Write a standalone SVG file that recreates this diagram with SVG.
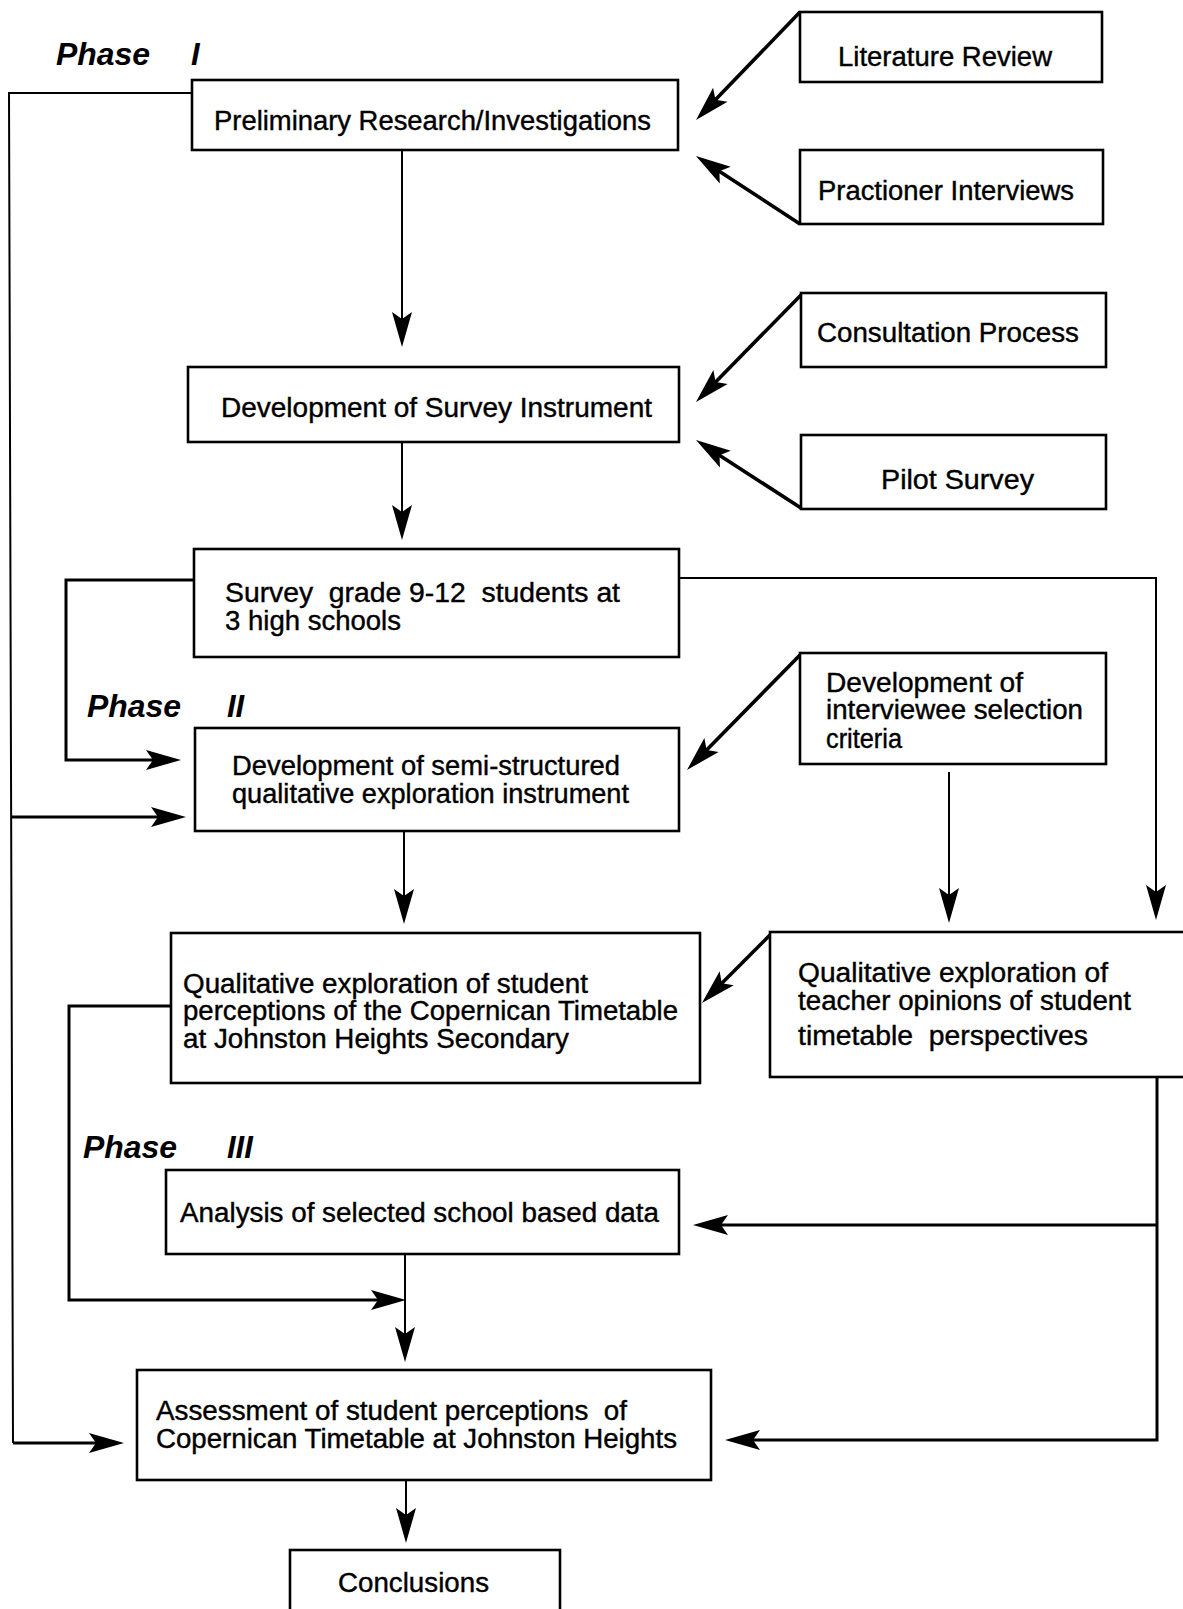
<svg xmlns="http://www.w3.org/2000/svg" width="1183" height="1609" viewBox="0 0 1183 1609">
<style>
.box{fill:#fff;stroke:#000;stroke-width:2.6}
.t{font-family:"Liberation Sans",Arial,Helvetica,sans-serif;font-size:27px;fill:#000;stroke:#000;stroke-width:0.4}
.ph{font-family:"Liberation Sans",Arial,Helvetica,sans-serif;font-size:31px;font-weight:bold;font-style:italic;fill:#000}
.c{fill:none;stroke:#000;stroke-width:2}
.c3{fill:none;stroke:#000;stroke-width:3}
.d{fill:none;stroke:#000;stroke-width:3.6}
.a{marker-end:url(#ah)}
</style>
<defs>
<marker id="ah" markerUnits="userSpaceOnUse" markerWidth="40" markerHeight="26" viewBox="-36 -13 40 26" refX="-20" refY="0" orient="auto">
<path d="M0,0 L-35,-10 L-28,0 L-35,10 Z" fill="#000"/>
</marker>
</defs>
<rect width="1183" height="1609" fill="#fff"/>

<g id="phase-labels">
<text class="ph" x="56" y="65" textLength="94" lengthAdjust="spacingAndGlyphs">Phase</text>
<text class="ph" x="191" y="65">I</text>
<text class="ph" x="87" y="717" textLength="94" lengthAdjust="spacingAndGlyphs">Phase</text>
<text class="ph" x="227" y="717">II</text>
<text class="ph" x="83" y="1158" textLength="94" lengthAdjust="spacingAndGlyphs">Phase</text>
<text class="ph" x="227" y="1158">III</text>
</g>

<g id="connectors">
<polyline class="c" points="192,93 9,93 13,1443"/>
<line class="c3 a" x1="11" y1="817" x2="166" y2="817"/>
<line class="c3 a" x1="13" y1="1443" x2="104" y2="1443"/>
<line class="c a" x1="402" y1="150" x2="402" y2="327"/>
<line class="c a" x1="402" y1="442" x2="402" y2="520"/>
<polyline class="c3 a" points="194,580 66,580 66,760 161,760"/>
<polyline class="c a" points="679,578 1156,578 1156,900"/>
<line class="c a" x1="404" y1="831" x2="404" y2="904"/>
<line class="c a" x1="949" y1="772" x2="949" y2="903"/>
<polyline class="c3 a" points="171,1006 69,1006 69,1300 386,1300"/>
<line class="c a" x1="405" y1="1254" x2="405" y2="1342"/>
<line class="c a" x1="406" y1="1480" x2="406" y2="1523"/>
<polyline class="c3 a" points="1157,1077 1157,1440 745,1440"/>
<line class="c3 a" x1="1157" y1="1225" x2="713" y2="1225"/>
<line class="d a" x1="800" y1="12" x2="709.9" y2="105.6"/>
<line class="d a" x1="800" y1="224" x2="712.7" y2="166.9"/>
<line class="d a" x1="801" y1="295" x2="710" y2="387.7"/>
<line class="d a" x1="801" y1="508" x2="712.8" y2="450.9"/>
<line class="d a" x1="800" y1="655" x2="701" y2="755.7"/>
<line class="d a" x1="770" y1="935" x2="716.1" y2="988.9"/>
</g>

<g id="literature-review">
<rect class="box" x="800" y="12" width="302" height="70"/>
<text class="t" x="838" y="66" textLength="214" lengthAdjust="spacingAndGlyphs">Literature Review</text>
</g>
<g id="practioner-interviews">
<rect class="box" x="800" y="150" width="303" height="74"/>
<text class="t" x="818" y="200" textLength="256" lengthAdjust="spacingAndGlyphs">Practioner Interviews</text>
</g>
<g id="preliminary-research">
<rect class="box" x="192" y="80" width="486" height="70"/>
<text class="t" x="214" y="130" textLength="437" lengthAdjust="spacingAndGlyphs">Preliminary Research/Investigations</text>
</g>
<g id="consultation-process">
<rect class="box" x="801" y="293" width="305" height="74"/>
<text class="t" x="817" y="342" textLength="262" lengthAdjust="spacingAndGlyphs">Consultation Process</text>
</g>
<g id="pilot-survey">
<rect class="box" x="801" y="435" width="305" height="74"/>
<text class="t" x="881" y="489" textLength="153" lengthAdjust="spacingAndGlyphs">Pilot Survey</text>
</g>
<g id="survey-instrument">
<rect class="box" x="188" y="367" width="491" height="75"/>
<text class="t" x="221" y="417" textLength="431" lengthAdjust="spacingAndGlyphs">Development of Survey Instrument</text>
</g>
<g id="survey-students">
<rect class="box" x="194" y="549" width="485" height="108"/>
<text class="t" x="225" y="602" textLength="395" lengthAdjust="spacingAndGlyphs" xml:space="preserve">Survey  grade 9-12  students at</text>
<text class="t" x="225" y="630" textLength="176" lengthAdjust="spacingAndGlyphs">3 high schools</text>
</g>
<g id="interviewee-criteria">
<rect class="box" x="800" y="653" width="306" height="111"/>
<text class="t" x="826" y="692" textLength="197" lengthAdjust="spacingAndGlyphs">Development of</text>
<text class="t" x="826" y="719" textLength="257" lengthAdjust="spacingAndGlyphs">interviewee selection</text>
<text class="t" x="826" y="748" textLength="76" lengthAdjust="spacingAndGlyphs">criteria</text>
</g>
<g id="semi-structured-instrument">
<rect class="box" x="195" y="728" width="484" height="103"/>
<text class="t" x="232" y="775" textLength="388" lengthAdjust="spacingAndGlyphs">Development of semi-structured</text>
<text class="t" x="232" y="803" textLength="397" lengthAdjust="spacingAndGlyphs">qualitative exploration instrument</text>
</g>
<g id="student-exploration">
<rect class="box" x="171" y="933" width="529" height="150"/>
<text class="t" x="183" y="993" textLength="405" lengthAdjust="spacingAndGlyphs">Qualitative exploration of student</text>
<text class="t" x="183" y="1020" textLength="495" lengthAdjust="spacingAndGlyphs">perceptions of the Copernican Timetable</text>
<text class="t" x="183" y="1048" textLength="386" lengthAdjust="spacingAndGlyphs">at Johnston Heights Secondary</text>
</g>
<g id="teacher-exploration">
<rect class="box" x="770" y="932" width="430" height="145"/>
<text class="t" x="798" y="982" textLength="310" lengthAdjust="spacingAndGlyphs">Qualitative exploration of</text>
<text class="t" x="798" y="1010" textLength="333" lengthAdjust="spacingAndGlyphs">teacher opinions of student</text>
<text class="t" x="798" y="1045" textLength="290" lengthAdjust="spacingAndGlyphs" xml:space="preserve">timetable  perspectives</text>
</g>
<g id="analysis">
<rect class="box" x="166" y="1170" width="513" height="84"/>
<text class="t" x="180" y="1222" textLength="479" lengthAdjust="spacingAndGlyphs">Analysis of selected school based data</text>
</g>
<g id="assessment">
<rect class="box" x="137" y="1370" width="574" height="110"/>
<text class="t" x="156" y="1420" textLength="471" lengthAdjust="spacingAndGlyphs" xml:space="preserve">Assessment of student perceptions  of</text>
<text class="t" x="156" y="1448" textLength="521" lengthAdjust="spacingAndGlyphs">Copernican Timetable at Johnston Heights</text>
</g>
<g id="conclusions">
<rect class="box" x="290" y="1550" width="270" height="80"/>
<text class="t" x="338" y="1592" textLength="151" lengthAdjust="spacingAndGlyphs">Conclusions</text>
</g>
</svg>
